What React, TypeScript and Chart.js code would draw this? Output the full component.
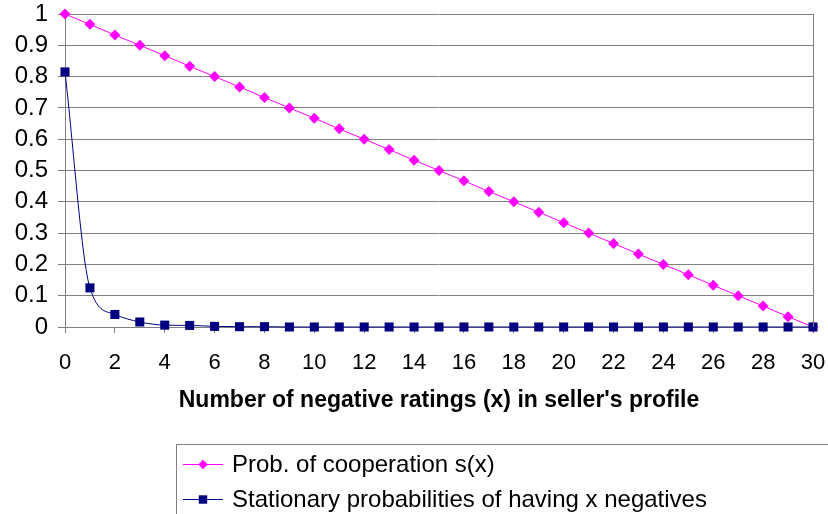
import React, { useEffect, useRef } from "react";
import { Chart, registerables } from "chart.js";

Chart.register(...registerables);

const xValues = [0, 1, 2, 3, 4, 5, 6, 7, 8, 9, 10, 11, 12, 13, 14, 15, 16, 17, 18, 19, 20, 21, 22, 23, 24, 25, 26, 27, 28, 29, 30];
const cooperation = [1, 0.967, 0.933, 0.9, 0.867, 0.833, 0.8, 0.767, 0.733, 0.7, 0.667, 0.633, 0.6, 0.567, 0.533, 0.5, 0.467, 0.433, 0.4, 0.367, 0.333, 0.3, 0.267, 0.233, 0.2, 0.167, 0.133, 0.1, 0.067, 0.033, 0];
const stationary = [0.815, 0.125, 0.04, 0.016, 0.006, 0.005, 0.002, 0.001, 0.001, 0, 0, 0, 0, 0, 0, 0, 0, 0, 0, 0, 0, 0, 0, 0, 0, 0, 0, 0, 0, 0, 0];
const yTicks = [0, 0.1, 0.2, 0.3, 0.4, 0.5, 0.6, 0.7, 0.8, 0.9, 1];
const seriesNames = ["Prob. of cooperation s(x)", "Stationary probabilities of having x negatives"];
const xTitle = "Number of negative ratings (x) in seller's profile";

const FONT = "'Liberation Sans', Arial, sans-serif";

const frameAndLegend = {
  id: "frameAndLegend",
  afterDraw(chart: any) {
    const { ctx, chartArea } = chart;
    ctx.save();
    // right frame line
    ctx.strokeStyle = "#808080";
    ctx.lineWidth = 1;
    ctx.beginPath();
    ctx.moveTo(Math.round(chartArea.right) + 0.5, chartArea.top);
    ctx.lineTo(Math.round(chartArea.right) + 0.5, chartArea.bottom);
    ctx.stroke();

    // legend box
    ctx.strokeStyle = "#808080";
    ctx.strokeRect(176.5, 444.5, 700, 120);
    const rows = [464, 499];
    chart.data.datasets.forEach((ds: any, i: number) => {
      const y = rows[i];
      ctx.strokeStyle = ds.borderColor;
      ctx.lineWidth = 1;
      ctx.beginPath();
      ctx.moveTo(183, y + 0.5);
      ctx.lineTo(223, y + 0.5);
      ctx.stroke();
      ctx.fillStyle = ds.pointBackgroundColor;
      ctx.beginPath();
      if (ds.pointStyle === "rectRot") {
        const r = 4.8;
        ctx.moveTo(203 - r, y + 0.5);
        ctx.lineTo(203, y + 0.5 - r);
        ctx.lineTo(203 + r, y + 0.5);
        ctx.lineTo(203, y + 0.5 + r);
        ctx.closePath();
      } else {
        const s = 4.2;
        ctx.rect(203 - s, y + 0.5 - s, 2 * s, 2 * s);
      }
      ctx.fill();
      ctx.fillStyle = "#000";
      ctx.font = `24px ${FONT}`;
      ctx.textBaseline = "alphabetic";
      ctx.textAlign = "left";
      ctx.fillText(ds.label, 232, y + 7.5);
    });
    ctx.restore();
  },
};

export default function App() {
  const ref = useRef<HTMLCanvasElement>(null);
  useEffect(() => {
    document.body.style.margin = "0";
    const chart = new Chart(ref.current!, {
      type: "line",
      data: {
        datasets: [
          {
            label: seriesNames[0],
            data: xValues.map((x, i) => ({ x, y: cooperation[i] })),
            borderColor: "#FF00FF",
            backgroundColor: "#FF00FF",
            pointBackgroundColor: "#FF00FF",
            pointBorderColor: "#FF00FF",
            borderWidth: 1,
            pointStyle: "rectRot",
            pointRadius: 5.5,
            pointBorderWidth: 0,
            tension: 0,
            clip: false,
            order: 1,
          } as any,
          {
            label: seriesNames[1],
            data: xValues.map((x, i) => ({ x, y: stationary[i] })),
            borderColor: "#000080",
            backgroundColor: "#000080",
            pointBackgroundColor: "#000080",
            pointBorderColor: "#000080",
            borderWidth: 1,
            pointStyle: "rect",
            pointRadius: 6.4,
            pointBorderWidth: 0,
            cubicInterpolationMode: "monotone",
            clip: false,
            order: 0,
          } as any,
        ],
      },
      options: {
        responsive: false,
        animation: false,
        layout: { padding: { left: 0, top: 14, right: 15, bottom: 100 } },
        plugins: { legend: { display: false }, tooltip: { enabled: false } },
        scales: {
          x: {
            type: "linear",
            min: 0,
            max: 30,
            ticks: {
              stepSize: 2,
              autoSkip: false,
              maxRotation: 0,
              padding: 17,
              color: "#000",
              font: { family: FONT, size: 22 },
            },
            grid: { drawOnChartArea: false, drawTicks: true, tickLength: 6, color: "#808080" },
            border: { display: true, color: "#808080" },
            title: {
              display: true,
              text: xTitle,
              color: "#000",
              font: { family: FONT, size: 23, weight: "bold" },
              padding: { top: 0, bottom: 0 },
            },
            afterFit(scale: any) {
              scale.height = 87;
              scale.paddingLeft = 0;
              scale.paddingRight = 0;
            },
          },
          y: {
            min: 0,
            max: 1,
            afterBuildTicks(scale: any) {
              scale.ticks = yTicks.map((v) => ({ value: v }));
            },
            ticks: {
              padding: 10,
              autoSkip: false,
              color: "#000",
              font: { family: FONT, size: 24, lineHeight: 1 },
              callback: (v: any) => String(Math.round(Number(v) * 10) / 10),
            },
            grid: { color: "#808080", drawTicks: true, tickLength: 7 },
            border: { display: true, color: "#808080" },
            afterFit(scale: any) {
              scale.width = 65;
              scale.paddingTop = 0;
              scale.paddingBottom = 0;
            },
          },
        },
      },
      plugins: [frameAndLegend],
    });
    return () => chart.destroy();
  }, []);
  return (
    <div style={{ position: "fixed", left: 0, top: 0, width: 828, height: 514, background: "#fff" }}>
      <canvas ref={ref} width={828} height={514} />
    </div>
  );
}
